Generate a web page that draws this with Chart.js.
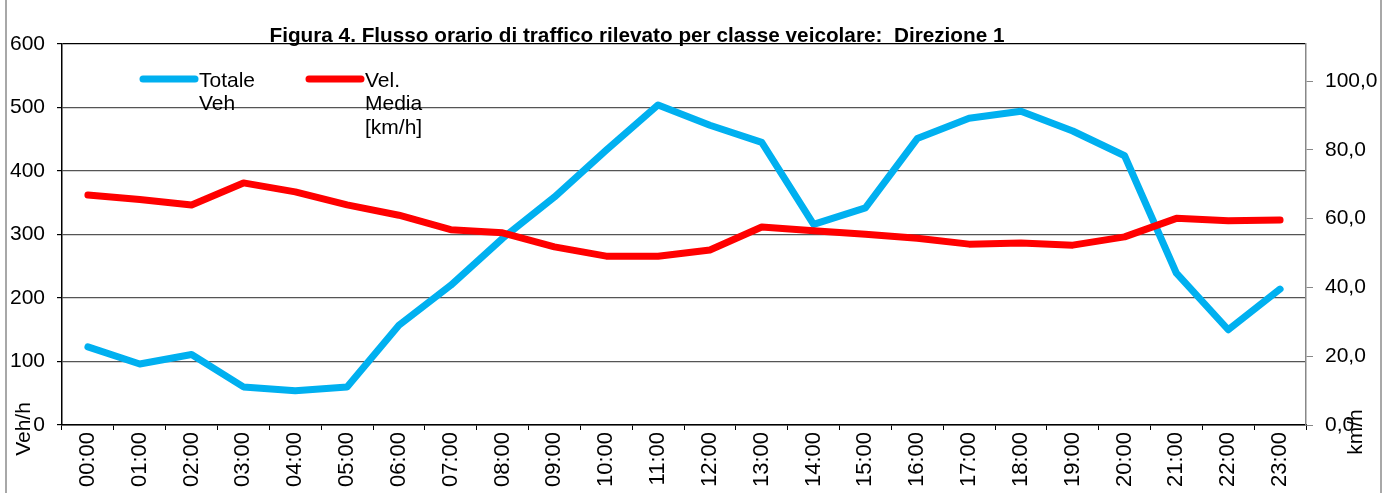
<!DOCTYPE html>
<html lang="it">
<head>
    <meta charset="UTF-8">
    <title>Figura 4. Flusso orario di traffico</title>
    <script src="https://cdn.jsdelivr.net/npm/chart.js"></script>
    <style>
        html, body { margin: 0; padding: 0; background: #fff; }
        #wrap { position: relative; width: 1394px; height: 493px; }
    </style>
</head>
<body>
    <div id="wrap"><canvas id="traffico"></canvas></div>

    <script>
        // dati
        const hours = ['00:00', '01:00', '02:00', '03:00', '04:00', '05:00', '06:00', '07:00',
                       '08:00', '09:00', '10:00', '11:00', '12:00', '13:00', '14:00', '15:00',
                       '16:00', '17:00', '18:00', '19:00', '20:00', '21:00', '22:00', '23:00'];
        const totaleVeh = [123, 96, 111, 60, 54, 60, 157, 220, 294, 359, 433, 504,
                           472, 445, 316, 342, 451, 483, 494, 463, 424, 239, 150, 214];
        const velMedia = [66.9, 65.6, 64.0, 70.4, 67.8, 64.0, 61.0, 56.8, 55.9, 51.8, 49.1, 49.1,
                          50.9, 57.6, 56.5, 55.5, 54.3, 52.6, 52.9, 52.3, 54.7, 60.1, 59.4, 59.6];
        const titleText = 'Figura 4. Flusso orario di traffico rilevato per classe veicolare:  Direzione 1';
        const legendTotale = ['Totale', 'Veh'];
        const legendVel = ['Vel.', 'Media', '[km/h]'];

        const FONT = "'Liberation Sans', Arial, sans-serif";
        const BLUE = '#00B0F0';
        const RED = '#FF0000';

        // bordo, titolo, legenda e titoli assi
        const extras = {
            id: 'extras',
            beforeDraw(chart) {
                const ctx = chart.ctx;
                ctx.save();
                ctx.strokeStyle = '#8c8c8c';
                ctx.lineWidth = 1.5;
                ctx.beginPath();
                ctx.moveTo(6, 0); ctx.lineTo(6, 493);
                ctx.moveTo(1381, 0); ctx.lineTo(1381, 493);
                ctx.stroke();
                ctx.restore();
            },
            afterDraw(chart) {
                const ctx = chart.ctx;
                ctx.save();
                // titolo
                ctx.fillStyle = '#000';
                ctx.font = 'bold 21px ' + FONT;
                ctx.textAlign = 'center';
                ctx.textBaseline = 'alphabetic';
                ctx.fillText(titleText, 637, 42, 735);

                // legenda
                ctx.font = '21px ' + FONT;
                ctx.textAlign = 'left';
                ctx.textBaseline = 'middle';
                ctx.lineCap = 'round';
                ctx.lineWidth = 7;
                const items = [
                    { color: BLUE, x: 143, lines: legendTotale },
                    { color: RED, x: 309, lines: legendVel }
                ];
                items.forEach(it => {
                    ctx.strokeStyle = it.color;
                    ctx.beginPath();
                    ctx.moveTo(it.x, 79);
                    ctx.lineTo(it.x + 52, 79);
                    ctx.stroke();
                    it.lines.forEach((t, i) => {
                        ctx.fillText(t, it.x + 56, 81 + i * 23.5);
                    });
                });

                // titoli assi
                ctx.font = '21px ' + FONT;
                ctx.textAlign = 'center';
                ctx.textBaseline = 'middle';
                ctx.translate(24, 429);
                ctx.rotate(-Math.PI / 2);
                ctx.fillText('Veh/h', 0, 0);
                ctx.rotate(Math.PI / 2);
                ctx.translate(1356 - 24, 432 - 429);
                ctx.rotate(-Math.PI / 2);
                ctx.fillText('km/h', 0, 0);
                ctx.restore();
            }
        };

        new Chart(document.getElementById('traffico'), {
            type: 'line',
            data: {
                labels: hours,
                datasets: [
                    {
                        label: 'Vel. Media [km/h]',
                        data: velMedia,
                        yAxisID: 'y1',
                        borderColor: RED,
                        backgroundColor: RED,
                        borderWidth: 7,
                        pointRadius: 0,
                        tension: 0,
                        borderJoinStyle: 'round',
                        borderCapStyle: 'round'
                    },
                    {
                        label: 'Totale Veh',
                        data: totaleVeh,
                        yAxisID: 'y',
                        borderColor: BLUE,
                        backgroundColor: BLUE,
                        borderWidth: 7,
                        pointRadius: 0,
                        tension: 0,
                        borderJoinStyle: 'round',
                        borderCapStyle: 'round'
                    }
                ]
            },
            options: {
                responsive: true,
                maintainAspectRatio: false,
                animation: false,
                layout: { padding: { top: 44, left: 0, right: 0, bottom: 0 } },
                plugins: {
                    legend: { display: false },
                    title: { display: false },
                    tooltip: { enabled: false }
                },
                scales: {
                    x: {
                        offset: true,
                        afterFit(scale) { scale.height = 68; },
                        grid: {
                            offset: true,
                            drawOnChartArea: false,
                            tickLength: 5,
                            color: '#000',
                            tickColor: '#000'
                        },
                        border: { color: '#000', width: 1.5 },
                        ticks: {
                            minRotation: 90,
                            maxRotation: 90,
                            autoSkip: false,
                            padding: 2,
                            color: '#000',
                            font: { family: FONT, size: 22 }
                        }
                    },
                    y: {
                        position: 'left',
                        min: 0,
                        max: 600,
                        afterFit(scale) { scale.width = 62; },
                        grid: {
                            color: ctx => ctx.tick && ctx.tick.value === 600 ? '#000' : '#555',
                            lineWidth: 1.2,
                            tickLength: 5,
                            tickColor: '#000'
                        },
                        border: { color: '#000', width: 1.5 },
                        ticks: {
                            stepSize: 100,
                            padding: 12,
                            color: '#000',
                            font: { family: FONT, size: 21 }
                        }
                    },
                    y1: {
                        position: 'right',
                        min: 0,
                        max: 110.8,
                        afterFit(scale) { scale.width = 88; },
                        grid: {
                            drawOnChartArea: false,
                            tickLength: 7,
                            color: '#888',
                            tickColor: '#888'
                        },
                        border: { color: '#888', width: 1.5 },
                        ticks: {
                            stepSize: 20,
                            includeBounds: false,
                            padding: 12,
                            color: '#000',
                            font: { family: FONT, size: 21 },
                            callback: v => v.toFixed(1).replace('.', ',')
                        }
                    }
                }
            },
            plugins: [extras]
        });
    </script>
</body>
</html>
